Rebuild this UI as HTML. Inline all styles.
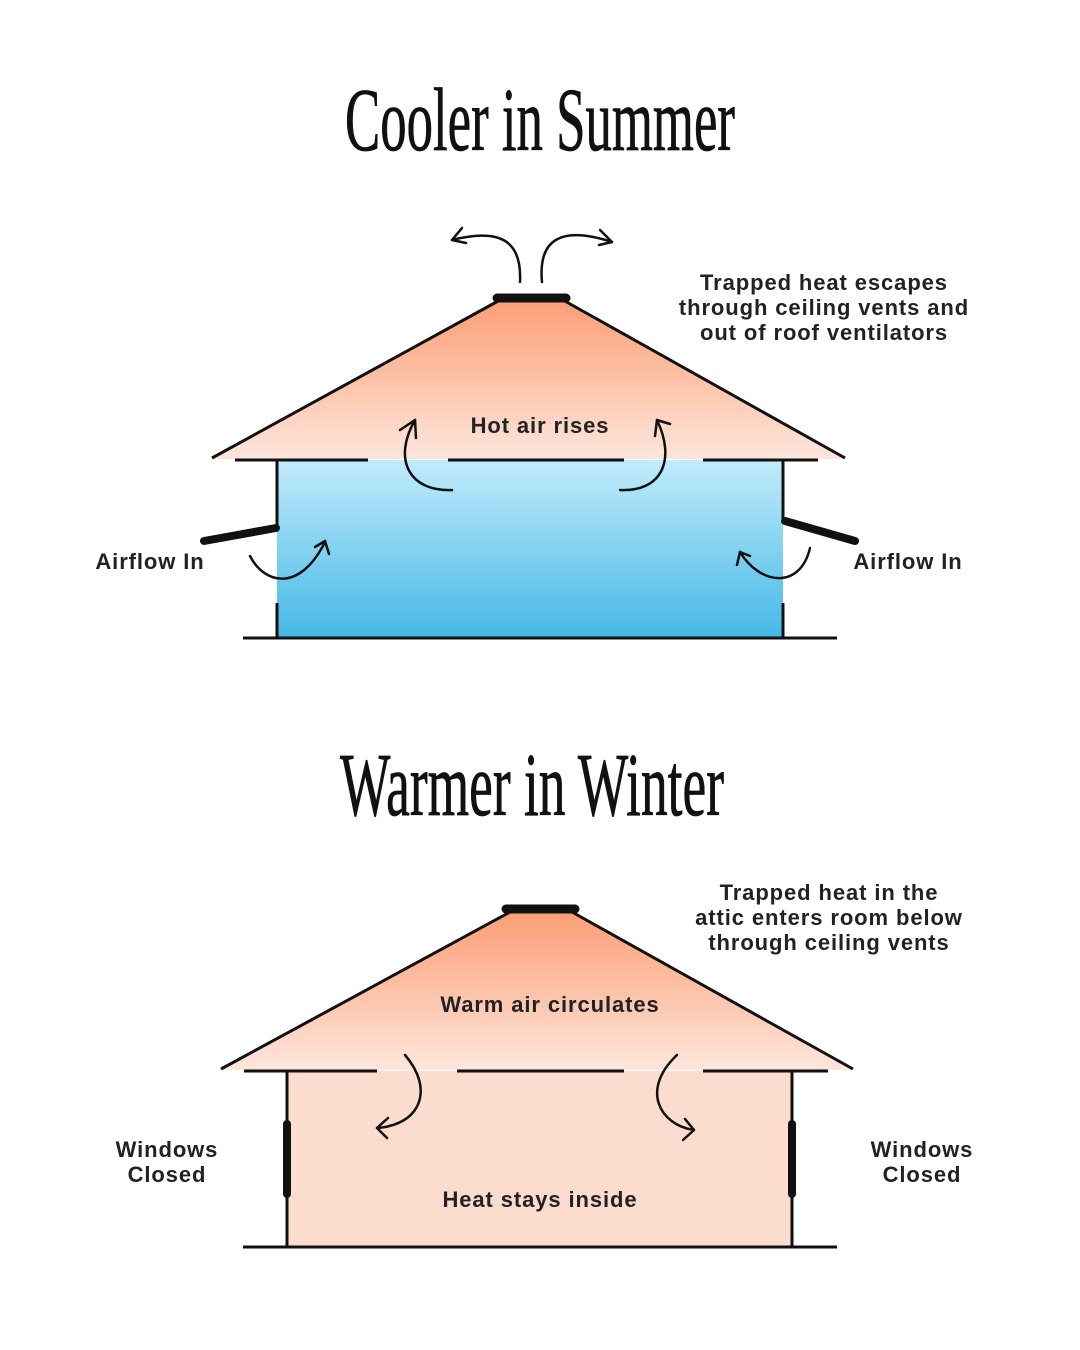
<!DOCTYPE html>
<html><head><meta charset="utf-8"><style>
html,body{margin:0;padding:0;background:#fff}
svg{display:block}
.t{font-family:"Liberation Serif",serif;fill:#111;stroke:#111;stroke-width:0.8}
.l{font-family:"Liberation Sans",sans-serif;font-weight:bold;font-size:22px;letter-spacing:0.9px;fill:#222;text-anchor:middle}
.k{stroke:#111;stroke-width:3;fill:none}
.a{stroke:#111;stroke-width:2.5;fill:none;stroke-linecap:round;stroke-linejoin:round}
</style></head><body>
<svg width="1080" height="1350" viewBox="0 0 1080 1350" xmlns="http://www.w3.org/2000/svg">
<defs>
<linearGradient id="or" x1="0" y1="0" x2="0" y2="1"><stop offset="0" stop-color="#fc9d74"/><stop offset="1" stop-color="#fde6dc"/></linearGradient>
<linearGradient id="bl" x1="0" y1="0" x2="0" y2="1"><stop offset="0" stop-color="#c2ebfc"/><stop offset="1" stop-color="#44b8e6"/></linearGradient>
</defs>
<text class="t" x="345" y="150" font-size="90" textLength="390" lengthAdjust="spacingAndGlyphs">Cooler in Summer</text>
<text class="t" x="340" y="815" font-size="90" textLength="384" lengthAdjust="spacingAndGlyphs">Warmer in Winter</text>

<!-- TOP HOUSE -->
<polygon points="500,299 563,299 845,459 212,459" fill="url(#or)"/>
<rect x="277" y="460" width="506" height="178" fill="url(#bl)"/>
<line class="k" x1="500" y1="300" x2="212" y2="458"/>
<line class="k" x1="563" y1="300" x2="845" y2="458"/>
<line x1="497" y1="298" x2="566" y2="298" stroke="#111" stroke-width="9" stroke-linecap="round"/>
<line class="k" x1="235" y1="460" x2="368" y2="460"/>
<line class="k" x1="448" y1="460" x2="624" y2="460"/>
<line class="k" x1="703" y1="460" x2="818" y2="460"/>
<line class="k" x1="277" y1="460" x2="277" y2="528"/>
<line class="k" x1="783" y1="460" x2="783" y2="522"/>
<line class="k" x1="277" y1="603" x2="277" y2="638"/>
<line class="k" x1="783" y1="603" x2="783" y2="638"/>
<line class="k" x1="243" y1="638" x2="837" y2="638"/>
<line x1="204" y1="541" x2="276" y2="528" stroke="#111" stroke-width="8" stroke-linecap="round"/>
<line x1="785" y1="521" x2="855" y2="541" stroke="#111" stroke-width="8" stroke-linecap="round"/>
<!-- top arrows -->
<path class="a" d="M520,282 C522,240 500,228 452,240"/><path class="a" d="M462,228 L452,240 L466,243"/>
<path class="a" d="M542,282 C538,240 560,225 612,242"/><path class="a" d="M600,230 L612,242 L599,245"/>
<path class="a" d="M452,490 C410,492 392,460 415,420"/><path class="a" d="M400,430 L415,420 L416,438"/>
<path class="a" d="M620,490 C662,492 676,460 657,420"/><path class="a" d="M655,436 L657,420 L670,424"/>
<path class="a" d="M250,556 C265,585 300,592 325,542"/><path class="a" d="M315,547 L325,541 L329,554"/>
<path class="a" d="M810,548 C800,590 760,585 740,552"/><path class="a" d="M737,565 L740,552 L750,556"/>

<text class="l" x="824" y="290">Trapped heat escapes</text>
<text class="l" x="824" y="315">through ceiling vents and</text>
<text class="l" x="824" y="340">out of roof ventilators</text>
<text class="l" x="540" y="433">Hot air rises</text>
<text class="l" x="150" y="569">Airflow In</text>
<text class="l" x="908" y="569">Airflow In</text>

<!-- BOTTOM HOUSE -->
<polygon points="510,911 572,911 853,1070 221,1070" fill="url(#or)"/>
<rect x="287" y="1071" width="505" height="176" fill="#fddcd0"/>
<line class="k" x1="510" y1="912" x2="221" y2="1069"/>
<line class="k" x1="572" y1="912" x2="853" y2="1069"/>
<line x1="506" y1="909" x2="575" y2="909" stroke="#111" stroke-width="9" stroke-linecap="round"/>
<line class="k" x1="244" y1="1071" x2="377" y2="1071"/>
<line class="k" x1="457" y1="1071" x2="624" y2="1071"/>
<line class="k" x1="703" y1="1071" x2="828" y2="1071"/>
<line class="k" x1="287" y1="1071" x2="287" y2="1247"/>
<line class="k" x1="792" y1="1071" x2="792" y2="1247"/>
<line class="k" x1="243" y1="1247" x2="837" y2="1247"/>
<line x1="287" y1="1124" x2="287" y2="1194" stroke="#111" stroke-width="8" stroke-linecap="round"/>
<line x1="792" y1="1124" x2="792" y2="1194" stroke="#111" stroke-width="8" stroke-linecap="round"/>
<path class="a" d="M405,1055 C435,1090 420,1125 377,1128"/><path class="a" d="M388,1118 L377,1128 L387,1138"/>
<path class="a" d="M677,1055 C640,1090 660,1125 694,1130"/><path class="a" d="M685,1119 L694,1130 L683,1140"/>

<text class="l" x="829" y="900">Trapped heat in the</text>
<text class="l" x="829" y="925">attic enters room below</text>
<text class="l" x="829" y="950">through ceiling vents</text>
<text class="l" x="550" y="1012">Warm air circulates</text>
<text class="l" x="540" y="1207">Heat stays inside</text>
<text class="l" x="167" y="1157">Windows</text>
<text class="l" x="167" y="1182">Closed</text>
<text class="l" x="922" y="1157">Windows</text>
<text class="l" x="922" y="1182">Closed</text>
</svg>
</body></html>
